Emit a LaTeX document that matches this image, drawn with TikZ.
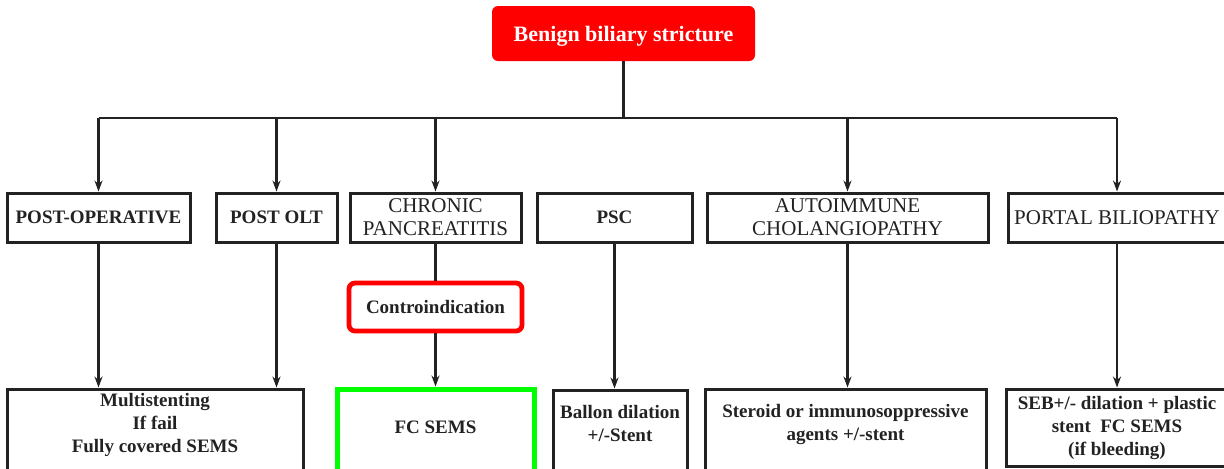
\documentclass[tikz,border=0pt]{standalone}
\usepackage{fontspec}
\setmainfont{Liberation Serif}
\usetikzlibrary{arrows.meta}

\definecolor{ink}{HTML}{222222}
\definecolor{alertred}{HTML}{FF0000}
\definecolor{okgreen}{HTML}{00FF00}

\tikzset{
  box/.style={draw=ink, line width=1.5pt, align=center, inner sep=0pt, text=ink,
    font=\bfseries\fontsize{9.5}{11.5}\selectfont},
  plainbox/.style={box, font=\fontsize{10.5}{11.5}\selectfont},
  lowbox/.style={box, text depth=10pt},
  rootbox/.style={fill=alertred, rounded corners=3pt, text=white, inner sep=0pt,
    text depth=0pt, font=\bfseries\fontsize{11}{13}\selectfont},
  link/.style={draw=ink, line width=1.1pt},
  arr/.style={link, -{Stealth[length=5.5pt,width=4pt]}}
}

\begin{document}
\begin{tikzpicture}[x=0.5pt,y=-0.5pt]
    \useasboundingbox (0,0) rectangle (1224,468);

    \node[rootbox, minimum width=131.5pt, minimum height=27.5pt] (bbs) at (623.5,33.5)
        {Benign biliary stricture};% top

    % causes
    \node[box, minimum width=91.5pt, minimum height=24.5pt] (postop) at (98.5,217.5) {POST-OPERATIVE};
    \node[box, minimum width=60.5pt, minimum height=24.5pt] (postolt) at (276.5,217.5) {POST OLT};
    \node[plainbox, minimum width=85.5pt, minimum height=24.5pt] (chronic) at (435.5,217.5)
        {CHRONIC\\PANCREATITIS};
    \node[box, minimum width=77.5pt, minimum height=24.5pt] (psc) at (614.5,217.5) {PSC};
    \node[plainbox, minimum width=140.5pt, minimum height=24.5pt] (autoimm) at (847.5,217.5)
        {AUTOIMMUNE\\CHOLANGIOPATHY};
    \node[plainbox, minimum width=109pt, minimum height=24.5pt] (portal) at (1117,217.5)
        {PORTAL BILIOPATHY};

    \node[box, draw=alertred, line width=2.4pt, rounded corners=3pt,
        minimum width=86.5pt, minimum height=24pt] (contra) at (435.5,307) {Controindication};

    % treatments
    \node[lowbox, minimum width=148pt, minimum height=43.5pt] (multi) at (155,432.5)
        {Multistenting\\If fail\\Fully covered SEMS};
    \node[lowbox, draw=okgreen, line width=2.5pt, text depth=5pt, minimum width=98.5pt,
        minimum height=43.5pt] (fcsems) at (435.5,432.5) {FC SEMS};
    \node[lowbox, minimum width=67pt, minimum height=43.5pt] (ballon) at (620,433.5)
        {Ballon dilation\\+/-Stent};
    \node[lowbox, minimum width=140.5pt, minimum height=43.5pt] (steroid) at (845.5,432.5)
        {Steroid or immunosoppressive\\agents +/-stent};
    \node[box, minimum width=111pt, minimum height=38.5pt] (seb) at (1117,427.5)
        {SEB+/- dilation + plastic\\stent\ \ FC SEMS\\(if bleeding)};

    % tree
    \coordinate (bus) at (622,118);
    \draw[link] (bbs.south) -- (bbs.south |- bus);
    \draw[link] (postop |- bus) -- (portal |- bus);
    \foreach \n in {postop,postolt,chronic,autoimm,portal}
        \draw[arr] (\n |- bus) -- (\n.north);

    \draw[arr] (postop.south) -- (postop.south |- multi.north);
    \draw[arr] (postolt.south) -- (postolt.south |- multi.north);
    \draw[link] (chronic.south) -- (contra.north);
    \draw[arr] (contra.south) -- (fcsems.north);
    \draw[arr] (psc.south) -- (psc.south |- ballon.north);
    \draw[arr] (autoimm.south) -- (autoimm.south |- steroid.north);
    \draw[arr] (portal.south) -- (seb.north);

\end{tikzpicture}
\end{document}
